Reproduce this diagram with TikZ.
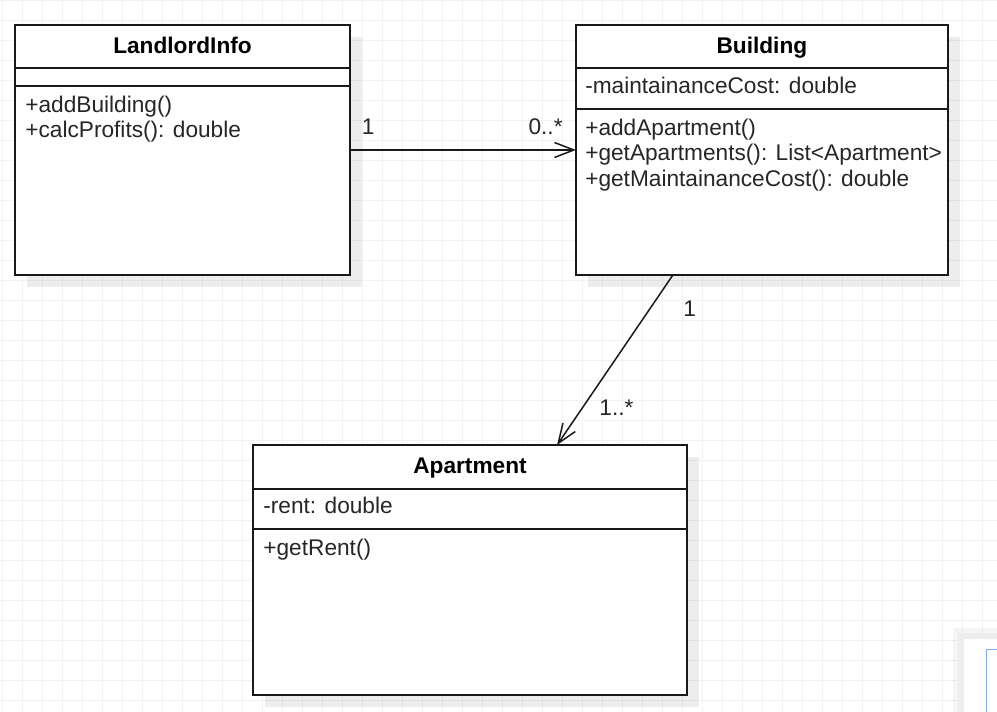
\documentclass[tikz,border=0pt]{standalone}
\usepackage{fontspec}
\setmainfont{Liberation Sans}
\usetikzlibrary{arrows.meta,positioning,calc,shadows}

\definecolor{panelblue}{HTML}{7EB0F2}

\begin{document}
\begin{tikzpicture}[
    x=0.02cm, y=-0.02cm,
    every node/.style={font=\fontsize{12.9}{15}\selectfont},
    umlclass/.style={rectangle, draw=black!90, line width=1.1pt, fill=white, minimum height=5cm, inner sep=0pt, outer sep=0pt, drop shadow={shadow xshift=0.24cm, shadow yshift=-0.24cm, fill=black, opacity=0.07}},
    classtitle/.style={anchor=base, inner sep=0pt, font=\fontsize{12.9}{15}\selectfont\bfseries, text=black},
    member/.style={anchor=base west, inner sep=0pt, text=black!85},
    mult/.style={anchor=base west, inner sep=0pt, text=black!85},
    assoc/.style={draw=black!90, line width=0.85pt, -{Straight Barb[length=11pt, width=8.5pt, line width=0.85pt]}},
    gridline/.style={draw=black!5, line width=0.55pt}
]

% Background grid
\useasboundingbox (0,0) rectangle (997,712);
\fill[white] (0,0) rectangle (997,712);
\foreach \gx in {2.5,22.5,...,997} \draw[gridline] (\gx,0) -- (\gx,712);
\foreach \gy in {0,20,...,712} \draw[gridline] (0,\gy) -- (997,\gy);

% Classes
\node [umlclass, minimum width=6.7cm] (landlord) at (182.5,150) {};
\node [umlclass, minimum width=7.44cm, right=4.52cm of landlord] (building) {};
\node [umlclass, minimum width=8.68cm] (apartment) at (470,570) {};

% Compartments
\draw [line width=1.1pt, black!90] ($(landlord.north west)+(0,43)$) -- ($(landlord.north east)+(0,43)$);
\draw [line width=1.1pt, black!90] ($(landlord.north west)+(0,61)$) -- ($(landlord.north east)+(0,61)$);
\draw [line width=1.1pt, black!90] ($(building.north west)+(0,43)$) -- ($(building.north east)+(0,43)$);
\draw [line width=1.1pt, black!90] ($(building.north west)+(0,84)$) -- ($(building.north east)+(0,84)$);
\draw [line width=1.1pt, black!90] ($(apartment.north west)+(0,44)$) -- ($(apartment.north east)+(0,44)$);
\draw [line width=1.1pt, black!90] ($(apartment.north west)+(0,84)$) -- ($(apartment.north east)+(0,84)$);

% Class texts
\node [classtitle] (landlord-title) at ($(landlord.north)+(0,28)$) {LandlordInfo};
\node [member] (landlord-m1) at ($(landlord.north west)+(10,87)$) {+addBuilding()};
\node [member] (landlord-m2) at ($(landlord.north west)+(10,112.5)$) {+calcProfits(): double};

\node [classtitle] (building-title) at ($(building.north)+(0,28)$) {Building};
\node [member] (building-a1) at ($(building.north west)+(9,68.3)$) {-maintainanceCost: double};
\node [member] (building-m1) at ($(building.north west)+(9,110)$) {+addApartment()};
\node [member] (building-m2) at ($(building.north west)+(9,135.5)$) {+getApartments(): List<Apartment>};
\node [member] (building-m3) at ($(building.north west)+(9,161)$) {+getMaintainanceCost(): double};

\node [classtitle] (apartment-title) at ($(apartment.north)+(0,28)$) {Apartment};
\node [member] (apartment-a1) at ($(apartment.north west)+(10,68)$) {-rent: double};
\node [member] (apartment-m1) at ($(apartment.north west)+(10,110)$) {+getRent()};

% Associations
\draw [assoc] (landlord) -- (building);
\node [mult] (landlord-mult) at ($(landlord.east)+(11.5,-15)$) {1};
\node [mult, anchor=base east] (building-mult) at ($(building.west)+(-13,-15)$) {0..*};

\coordinate (building-out) at ($(building.south west)+(97,0)$);
\coordinate (apartment-in) at ($(apartment.north west)+(304,0)$);
\draw [assoc] (building-out) -- (apartment-in);
\node [mult] (building-one) at ($(building.south west)+(107,42)$) {1};
\node [mult] (apartment-many) at ($(apartment.north west)+(346,-30)$) {1..*};

% Panel in the corner
\fill [black, opacity=0.04] (953,628) rectangle (997,712);
\fill [black!7] (958,633) rectangle (997,712);
\fill [white] (964,639) rectangle (997,712);
\draw [panelblue, line width=1pt] (986.5,712) -- (986.5,649.5) -- (997,649.5);

\end{tikzpicture}
\end{document}
